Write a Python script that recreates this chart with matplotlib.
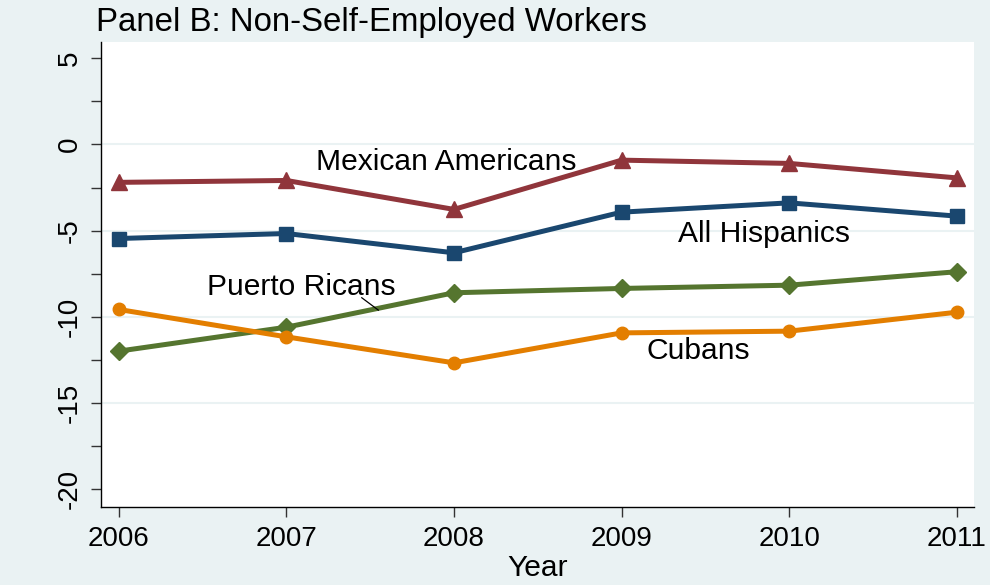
import matplotlib
matplotlib.use("Agg")
import matplotlib.pyplot as plt
import numpy as np

plt.rcParams['font.family'] = ['Liberation Sans', 'DejaVu Sans']

years = [2006, 2007, 2008, 2009, 2010, 2011]
mexican = [-2.2, -2.09, -3.77, -0.91, -1.10, -1.94]
all_hisp = [-5.46, -5.17, -6.29, -3.93, -3.39, -4.16]
puerto = [-12.0, -10.61, -8.61, -8.36, -8.17, -7.39]
cubans = [-9.58, -11.17, -12.68, -10.94, -10.84, -9.74]

major_yticks = [5, 0, -5, -10, -15, -20]
minor_yticks = [2.5, -2.5, -7.5, -12.5, -17.5]
grid_levels = [0, -5, -10, -15]

bg = '#eaf2f3'
fig = plt.figure(figsize=(9.9, 5.85), dpi=100, facecolor=bg)
ax = fig.add_axes([101/990, 1-507/585, (974-101)/990, (507-42)/585])
ax.set_facecolor('white')

for g in grid_levels:
    ax.axhline(g, color=bg, lw=1.5, zorder=0)

lw = 3.6
ax.plot(years, mexican, color='#90353b', lw=lw, marker='^', ms=11, zorder=3)
ax.plot(years, all_hisp, color='#1a476f', lw=lw, marker='s', ms=9.5, zorder=3)
ax.plot(years, puerto, color='#55752f', lw=lw, marker='D', ms=9, zorder=3)
ax.plot(years, cubans, color='#e37e00', lw=lw, marker='o', ms=9, zorder=3)

fs = 21.6
ax.text(2007.956, -0.99, 'Mexican Americans', fontsize=fs, ha='center', va='center')
ax.text(2009.85, -5.2, 'All Hispanics', fontsize=fs, ha='center', va='center')
ax.text(2007.09, -8.25, 'Puerto Ricans', fontsize=fs, ha='center', va='center')
ax.text(2009.46, -12.0, 'Cubans', fontsize=fs, ha='center', va='center')
ax.plot([2007.450, 2007.549], [-8.90, -9.62], color='black', lw=0.9, zorder=4)

ax.set_xlim(2005.894, 2011.103)
ax.set_ylim(-21.05, 5.95)
ax.set_xticks(years)
ax.set_xticklabels([str(y) for y in years])
ax.set_yticks(major_yticks)
ax.set_yticks(minor_yticks, minor=True)
ax.set_yticklabels([str(v) for v in major_yticks], rotation=90, va='center')

for s in ['top', 'right']:
    ax.spines[s].set_visible(False)
for s in ['left', 'bottom']:
    ax.spines[s].set_color('black')
    ax.spines[s].set_linewidth(1.0)

ax.tick_params(axis='both', which='both', length=7, width=1.0, color='#333333', labelsize=20)
ax.tick_params(axis='x', pad=7)
ax.tick_params(axis='y', pad=6)
ax.set_xlabel('Year', fontsize=21.6, labelpad=1)

fig.text(96/990, 1-22/585, 'Panel B: Non-Self-Employed Workers', fontsize=23.8, ha='left', va='center')

fig.savefig('out.png', dpi=100, facecolor=bg)
